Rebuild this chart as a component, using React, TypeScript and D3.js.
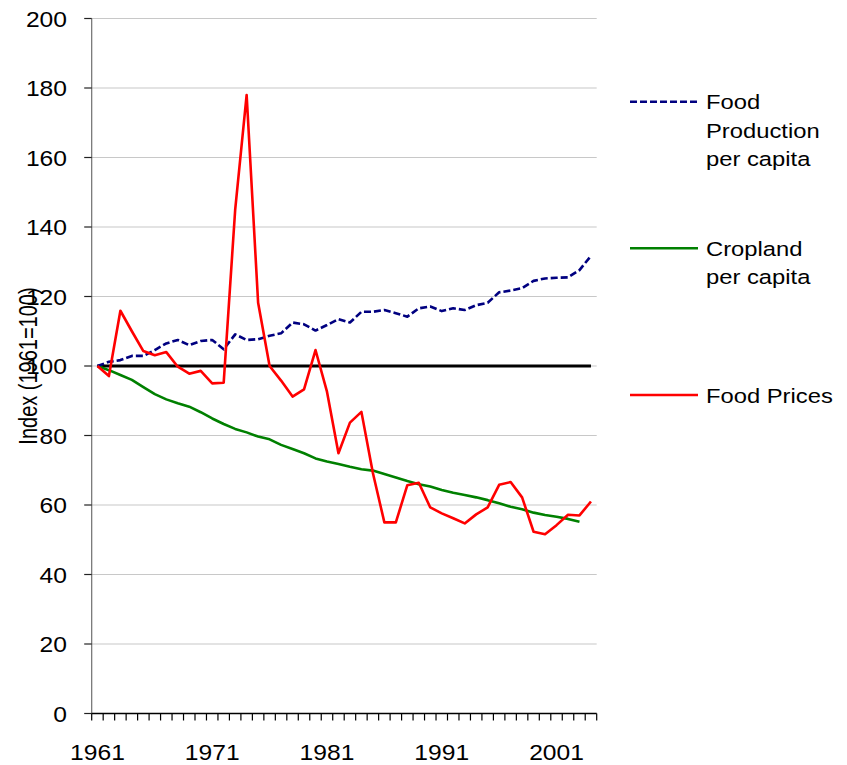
import React from "react";
import * as d3 from "d3";

const years: number[] = d3.range(1961, 2005);

const foodProduction: number[] = [
  100, 101.2, 101.7, 102.9, 102.9, 104.6, 106.5, 107.5, 106.0, 107.2,
  107.5, 104.8, 109.1, 107.5, 107.7, 108.7, 109.4, 112.5, 112.0, 110.2,
  111.8, 113.5, 112.5, 115.6, 115.6, 116.1, 115.2, 114.2, 116.6, 117.1,
  115.8, 116.6, 116.1, 117.5, 118.2, 121.2, 121.7, 122.4, 124.5, 125.2,
  125.4, 125.5, 127.6, 131.7,
];

const cropland: number[] = [
  100, 98.8, 97.4, 96.0, 93.9, 91.9, 90.4, 89.3, 88.3, 86.7,
  84.9, 83.3, 81.9, 80.9, 79.7, 78.9, 77.3, 76.1, 74.9, 73.4,
  72.5, 71.8, 71.0, 70.3, 69.9, 68.9, 67.9, 66.9, 66.0, 65.3,
  64.3, 63.5, 62.9, 62.2, 61.4, 60.5, 59.5, 58.8, 57.8, 57.1,
  56.6, 56.0, 55.2,
];

const foodPrices: number[] = [
  100, 97.1, 115.9, 110.0, 104.3, 103.1, 104.0, 99.8, 97.8, 98.6,
  95.0, 95.2, 144.9, 178.0, 118.2, 100.0, 95.8, 91.2, 93.3, 104.6,
  92.6, 74.9, 83.7, 86.8, 69.2, 55.0, 55.0, 65.7, 66.4, 59.3,
  57.6, 56.2, 54.7, 57.3, 59.3, 65.8, 66.6, 62.2, 52.3, 51.6,
  54.2, 57.2, 57.0, 61.0,
];

const baseline: number[] = years.map(() => 100);

const yTicks: number[] = [0, 20, 40, 60, 80, 100, 120, 140, 160, 180, 200];
const xLabelYears: number[] = [1961, 1971, 1981, 1991, 2001];

const legendItems = [
  { lines: ["Food", "Production", "per capita"], color: "#000080", dash: "7,3", y: 101.7 },
  { lines: ["Cropland", "per capita"], color: "#008000", dash: "", y: 248.3 },
  { lines: ["Food Prices"], color: "#ff0000", dash: "", y: 395 },
];

const FONT = "Liberation Sans, Arial, sans-serif";

export default function App() {
  const width = 847;
  const height = 765;
  const left = 91.7;
  const right = 596.7;
  const top = 18.5;
  const bottom = 713.5;

  const x = d3.scaleBand<number>().domain(years).range([left, right]).padding(0);
  const y = d3.scaleLinear().domain([0, 200]).range([bottom, top]);
  const cx = (yr: number) => (x(yr) as number) + x.bandwidth() / 2;

  const lineGen = (vals: number[]) =>
    d3
      .line<number>()
      .x((_, i) => cx(years[i]))
      .y((v) => y(v))(vals) as string;

  const tickBounds = d3.range(0, years.length + 1).map((i) => left + i * x.bandwidth());

  return (
    <svg
      width={width}
      height={height}
      style={{ position: "absolute", left: 0, top: 0, background: "#fff" }}
      fontFamily={FONT}
    >
      <rect x={0} y={0} width={width} height={height} fill="#fff" />
      {yTicks.map((t) =>
        t === 0 ? null : (
          <line key={"g" + t} x1={left} x2={right} y1={y(t)} y2={y(t)} stroke="#c8c8c8" strokeWidth={1.2} />
        )
      )}
      <line x1={left} x2={left} y1={top} y2={bottom} stroke="#6e6e6e" strokeWidth={1.2} />
      {yTicks.map((t) => (
        <g key={"yt" + t}>
          <line x1={left - 7.5} x2={left} y1={y(t)} y2={y(t)} stroke="#222" strokeWidth={1.2} />
          <text
            transform={`translate(67,${y(t) + 8}) scale(1.12,1)`}
            textAnchor="end"
            fontSize={22}
            fill="#000"
          >
            {t}
          </text>
        </g>
      ))}
      <line x1={left} x2={right} y1={bottom} y2={bottom} stroke="#000" strokeWidth={1.5} />
      {tickBounds.map((tx, i) => (
        <line key={"xt" + i} x1={tx} x2={tx} y1={bottom} y2={bottom + 7} stroke="#000" strokeWidth={1.2} />
      ))}
      {xLabelYears.map((yr) => (
        <text
          key={"xl" + yr}
          transform={`translate(${cx(yr)},760) scale(1.12,1)`}
          textAnchor="middle"
          fontSize={22}
          fill="#000"
        >
          {yr}
        </text>
      ))}
      <text
        transform={`translate(37,${(top + bottom) / 2}) scale(1.25,1) rotate(-90)`}
        textAnchor="middle"
        fontSize={20}
        fill="#000"
      >
        Index (1961=100)
      </text>
      <path d={lineGen(baseline)} fill="none" stroke="#000" strokeWidth={3} />
      <path d={lineGen(cropland)} fill="none" stroke="#008000" strokeWidth={2.6} strokeLinejoin="round" />
      <path d={lineGen(foodProduction)} fill="none" stroke="#000080" strokeWidth={2.6} strokeDasharray="7,3" strokeLinejoin="round" />
      <path d={lineGen(foodPrices)} fill="none" stroke="#ff0000" strokeWidth={2.6} strokeLinejoin="round" />
      {legendItems.map((it) => (
        <g key={it.lines[0]}>
          <line
            x1={630}
            x2={698}
            y1={it.y}
            y2={it.y}
            stroke={it.color}
            strokeWidth={2.6}
            strokeDasharray={it.dash || undefined}
          />
          {it.lines.map((ln, j) => (
            <text
              key={ln + j}
              transform={`translate(706,${it.y + 7.5 + j * 28.6}) scale(1.16,1)`}
              fontSize={20.5}
              fill="#000"
            >
              {ln}
            </text>
          ))}
        </g>
      ))}
    </svg>
  );
}
